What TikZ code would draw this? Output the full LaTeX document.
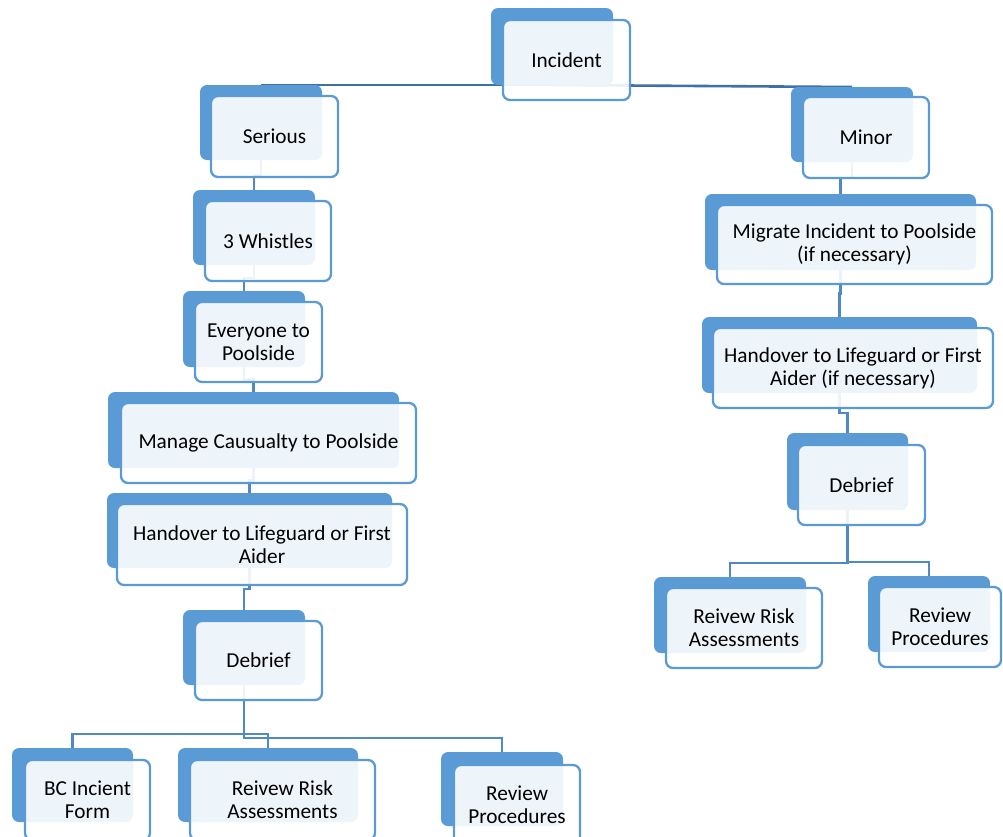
\documentclass[tikz,border=0pt]{standalone}
\usepackage{fontspec}
\setmainfont{Carlito}
\usetikzlibrary{calc}
\definecolor{bk}{HTML}{5B9BD5}
\definecolor{cn}{HTML}{5089C6}
\definecolor{tc}{HTML}{3F70A8}
\newcommand\boxfont{\fontsize{21.3}{23}\selectfont}
\tikzset{
  backbox/.style={fill=bk, rounded corners=7pt, inner sep=0pt, outer sep=0pt, anchor=north west},
  frontbox/.style={draw=bk, line width=2.3pt, fill=white, fill opacity=0.9, text opacity=1,
    rounded corners=7pt, inner sep=0pt, outer sep=0pt, anchor=north west, align=center,
    font=\boxfont, text=black},
  conn/.style={draw=cn, line width=2.6pt},
  topconn/.style={draw=tc, line width=2.6pt},
}
\begin{document}
\begin{tikzpicture}[x=1pt,y=-1pt]
\useasboundingbox (0,0) rectangle (1003,836);
\clip (0,0) rectangle (1003,836);
% ---- back boxes (geometry nodes; filled after the connectors)
\path
 (491,8) node[backbox, fill=none, minimum width=122pt, minimum height=77pt] (incb) {}
 (200,85) node[backbox, fill=none, minimum width=122pt, minimum height=75pt] (serb) {}
 (193,190) node[backbox, fill=none, minimum width=122pt, minimum height=75pt] (whib) {}
 (183,291) node[backbox, fill=none, minimum width=122pt, minimum height=76pt] (evrb) {}
 (108,392) node[backbox, fill=none, minimum width=291pt, minimum height=76pt] (manb) {}
 (107,493) node[backbox, fill=none, minimum width=285pt, minimum height=75pt] (hanLb) {}
 (183,610) node[backbox, fill=none, minimum width=122pt, minimum height=75pt] (debLb) {}
 (12,748) node[backbox, fill=none, minimum width=121pt, minimum height=74pt] (bcb) {}
 (178,748) node[backbox, fill=none, minimum width=180pt, minimum height=74pt] (rraLb) {}
 (441,752) node[backbox, fill=none, minimum width=122pt, minimum height=74pt] (rpLb) {}
 (791,87) node[backbox, fill=none, minimum width=122pt, minimum height=75pt] (minb) {}
 (705,194) node[backbox, fill=none, minimum width=271pt, minimum height=76pt] (migb) {}
 (702,317) node[backbox, fill=none, minimum width=275pt, minimum height=76pt] (hanRb) {}
 (787,433) node[backbox, fill=none, minimum width=121pt, minimum height=77pt] (debRb) {}
 (654,577) node[backbox, fill=none, minimum width=152pt, minimum height=76pt] (rraRb) {}
 (868,576) node[backbox, fill=none, minimum width=122pt, minimum height=76pt] (rpRb) {};
% ---- connectors
\draw[topconn] (incb.south) -- (serb.north);
\draw[topconn] (incb.south) -- (minb.north);
\draw[conn] (serb.south) |- ($(serb.south)!.5!(whib.north)$) -| (whib.north);
\draw[conn] (whib.south) |- ($(whib.south)!.5!(evrb.north)$) -| (evrb.north);
\draw[conn] (evrb.south) |- ($(evrb.south)!.5!(manb.north)$) -| (manb.north);
\draw[conn] (manb.south) |- ($(manb.south)!.5!(hanLb.north)$) -| (hanLb.north);
\draw[conn] (hanLb.south) |- ($(hanLb.south)!.5!(debLb.north)$) -| (debLb.north);
\draw[conn] (debLb.south) |- ($(bcb.north)+(0,-14)$) -- (bcb.north);
\draw[conn] (debLb.south) |- ($(rraLb.north)+(0,-14)$) -- (rraLb.north);
\draw[conn] (debLb.south) |- ($(rpLb.north)+(0,-14)$) -- (rpLb.north);
\draw[conn] (minb.south) |- ($(minb.south)!.5!(migb.north)$) -| (migb.north);
\draw[conn] (migb.south) |- ($(migb.south)!.5!(hanRb.north)$) -| (hanRb.north);
\draw[conn] (hanRb.south) |- ($(hanRb.south)!.5!(debRb.north)$) -| (debRb.north);
\draw[conn] (debRb.south) |- ($(rraRb.north)+(0,-14)$) -- (rraRb.north);
\draw[conn] (debRb.south) |- ($(rpRb.north)+(0,-14)$) -- (rpRb.north);
% ---- filled back boxes
\foreach \n in {incb,serb,whib,evrb,manb,hanLb,debLb,bcb,rraLb,rpLb,minb,migb,hanRb,debRb,rraRb,rpRb}
  \fill[bk, rounded corners=7pt] (\n.north west) rectangle (\n.south east);
% ---- front boxes with text
\node[frontbox, minimum width=127pt, minimum height=80pt] (incf) at (503,20) {Incident};
\node[frontbox, minimum width=127pt, minimum height=81pt] (serf) at (211,96) {Serious};
\node[frontbox, minimum width=126pt, minimum height=80pt] (whif) at (205,201) {3 Whistles};
\node[frontbox, minimum width=127pt, minimum height=80pt] (evrf) at (195,302) {Everyone to\\Poolside};
\node[frontbox, minimum width=295pt, minimum height=80pt] (manf) at (121,403) {Manage Causualty to Poolside};
\node[frontbox, minimum width=290pt, minimum height=81pt] (hanLf) at (117,504) {Handover to Lifeguard or First\\Aider};
\node[frontbox, minimum width=127pt, minimum height=79pt] (debLf) at (195,621) {Debrief};
\node[frontbox, minimum width=125pt, minimum height=80pt] (bcf) at (25,760) {BC Incient\\Form};
\node[frontbox, minimum width=185pt, minimum height=80pt] (rraLf) at (190,760) {Reivew Risk\\Assessments};
\node[frontbox, minimum width=126pt, minimum height=80pt] (rpLf) at (454,765) {Review\\Procedures};
\node[frontbox, minimum width=126pt, minimum height=81pt] (minf) at (803,97) {Minor};
\node[frontbox, minimum width=275pt, minimum height=79pt] (migf) at (717,205) {Migrate Incident to Poolside\\(if necessary)};
\node[frontbox, minimum width=280pt, minimum height=80pt] (hanRf) at (713,328) {Handover to Lifeguard or First\\Aider (if necessary)};
\node[frontbox, minimum width=127pt, minimum height=80pt] (debRf) at (798,445) {Debrief};
\node[frontbox, minimum width=156pt, minimum height=80pt] (rraRf) at (666,588) {Reivew Risk\\Assessments};
\node[frontbox, minimum width=122pt, minimum height=80pt] (rpRf) at (879,587) {Review\\Procedures};
\end{tikzpicture}
\end{document}
